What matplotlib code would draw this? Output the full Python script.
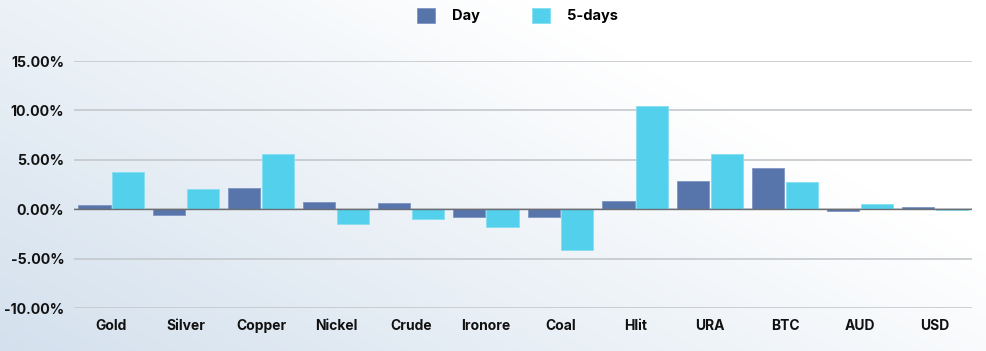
import numpy as np
import matplotlib.pyplot as plt
from matplotlib.ticker import FuncFormatter

# --- Dados ---
categorias = ["Gold", "Silver", "Copper", "Nickel", "Crude", "Ironore",
              "Coal", "Hlit", "URA", "BTC", "AUD", "USD"]
dia = [0.4, -0.6, 2.1, 0.7, 0.6, -0.8, -0.8, 0.8, 2.9, 4.2, -0.15, 0.2]
cinco_dias = [3.8, 2.0, 5.6, -1.5, -1.0, -1.8, -4.1, 10.5, 5.6, 2.8, 0.5, -0.05]
ticks_y = [-10, -5, 0, 5, 10, 15]

COR_DIA = "#5875ab"
COR_5D = "#53d0eb"

plt.rcParams["font.family"] = ["Inter", "DejaVu Sans"]

fig = plt.figure(figsize=(9.86, 3.51), dpi=100)

# fundo em degradê (azulado embaixo à esquerda, branco em cima à direita)
fundo = fig.add_axes([0, 0, 1, 1], zorder=-10)
yy, xx = np.mgrid[0:1:200j, 0:1:400j]   # yy = 0 no topo
d = np.clip(1.0 - (0.85 * xx + 0.55 * (1 - yy)), 0, 1)
c0 = np.array([1.0, 1.0, 1.0])
c1 = np.array([0.83, 0.88, 0.93])
img = c0[None, None, :] * (1 - d[..., None]) + c1[None, None, :] * d[..., None]
fundo.imshow(img, extent=[0, 1, 0, 1], origin="upper", aspect="auto")
fundo.axis("off")

ax = fig.add_axes([0.075, 0.1225, 0.911, 0.7035])
ax.patch.set_alpha(0)

x = np.arange(len(categorias))
largura = 0.43
ax.bar(x - largura / 2 - 0.01, dia, width=largura, color=COR_DIA,
       edgecolor="#7e95c2", linewidth=0.6, label="Day", zorder=3)
ax.bar(x + largura / 2 + 0.01, cinco_dias, width=largura, color=COR_5D,
       edgecolor="#86def2", linewidth=0.6, label="5-days", zorder=3)

ax.set_xlim(-0.5, len(categorias) - 0.5)
ax.set_ylim(-10, 15)
ax.set_yticks(ticks_y)
ax.yaxis.set_major_formatter(FuncFormatter(lambda v, p: f"{v:.2f}%"))
ax.grid(axis="y", color="#c4c8cc", linewidth=1.2, zorder=0)
ax.axhline(0, color="#6b6f73", linewidth=1.0, zorder=4)

ax.set_xticks(x)
ax.set_xticklabels(categorias, fontsize=10, fontweight="bold")
for rotulo in ax.get_yticklabels():
    rotulo.set_fontsize(10.2)
    rotulo.set_fontweight("bold")
ax.tick_params(axis="both", length=0, colors="#111111")
ax.tick_params(axis="y", pad=7)
ax.tick_params(axis="x", pad=8)
for lado in ax.spines.values():
    lado.set_visible(False)

leg = fig.legend(loc="upper center", bbox_to_anchor=(0.525, 1.015), ncol=2,
                 frameon=False, handlelength=1.2, handleheight=1.2,
                 columnspacing=3.6, handletextpad=1.2,
                 prop={"weight": "bold", "size": 10.5})

fig.savefig("out.png", dpi=100)
